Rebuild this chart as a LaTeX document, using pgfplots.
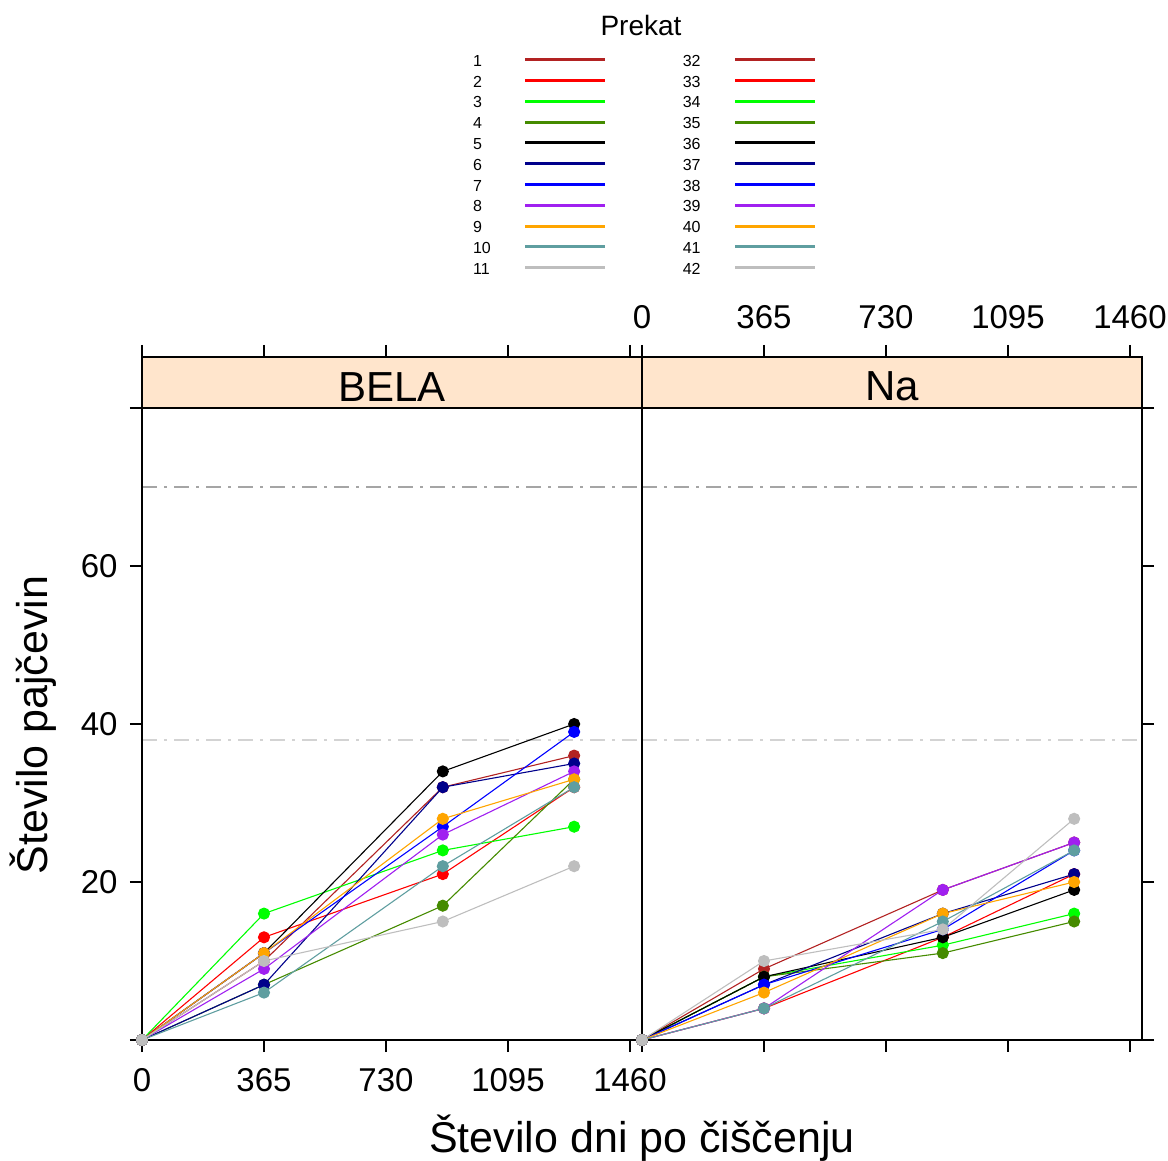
\documentclass[border=0pt]{standalone}
\usepackage{fontspec}
\setmainfont{Liberation Sans}
\usepackage{pgfplots}
\usepackage{pgfplotstable}
\pgfplotsset{compat=1.18}

\definecolor{c1}{RGB}{178,34,34}
\definecolor{c2}{RGB}{255,0,0}
\definecolor{c3}{RGB}{0,255,0}
\definecolor{c4}{RGB}{69,139,0}
\definecolor{c5}{RGB}{0,0,0}
\definecolor{c6}{RGB}{0,0,139}
\definecolor{c7}{RGB}{0,0,255}
\definecolor{c8}{RGB}{160,32,240}
\definecolor{c9}{RGB}{255,165,0}
\definecolor{c10}{RGB}{95,158,160}
\definecolor{c11}{RGB}{190,190,190}
\definecolor{stripbg}{RGB}{255,229,204}
\definecolor{refdark}{RGB}{165,165,165}
\definecolor{reflight}{RGB}{211,211,211}

\pgfplotstableread{
day s1 s2 s3 s4 s5 s6 s7 s8 s9 s10 s11
0 0 0 0 0 0 0 0 0 0 0 0
365 10 13 16 7 11 7 11 9 11 6 10
900 32 21 24 17 34 32 27 26 28 22 15
1293 36 32 27 33 40 35 39 34 33 32 22
}\bela
\pgfplotstableread{
day s1 s2 s3 s4 s5 s6 s7 s8 s9 s10 s11
0 0 0 0 0 0 0 0 0 0 0 0
365 9 4 8 8 8 7 7 4 6 4 10
900 19 13 12 11 13 16 14 19 16 15 14
1293 25 21 16 15 19 21 24 25 20 24 28
}\na

\pgfplotsset{
  panel/.style={
    scale only axis, width=500pt, height=683pt,
    xmin=0, xmax=1496, ymin=0, ymax=86.456,
    xtick={0,365,730,1095,1460},
    ytick={0,20,40,60,80},
    tick align=outside, major tick length=12pt,
    axis line style={line width=1.2pt},
    tick style={line width=1.2pt, black},
    ticklabel style={font=\fontsize{33}{33}\selectfont},
    xticklabel shift={13pt}, yticklabel shift={9pt},
    /pgf/number format/assume math mode=true,
    /pgf/number format/1000 sep={},
    clip=false, axis on top,
  },
  ser/.style={color=#1, line width=1.1pt, mark=*, mark size=5.5pt, mark options={solid, fill=#1, draw=#1}, forget plot},
  refline/.style={color=#1, line width=2pt, dash pattern=on 15pt off 7pt on 3pt off 7pt, forget plot},
}

\begin{document}
\begin{tikzpicture}
\useasboundingbox (0,0) rectangle (1168pt,1160pt);

\begin{axis}[panel, at={(142pt,120pt)}, anchor=south west,
  ytick pos=left, yticklabels={,20,40,60,},
  xticklabel pos=lower,
  legend columns=2, legend cell align=left, legend plot pos=right,
  legend image code/.code={\draw[#1, line width=3pt] (0pt,2pt) -- (80pt,2pt);},
  legend style={at={(0.6617,1.4436)}, anchor=north west, draw=none, fill=none,
    inner sep=0pt, font=\fontsize{16}{16}\selectfont, row sep=5.8pt,
    nodes={inner sep=0pt, text height=12pt, text depth=3pt},
    /tikz/every odd column/.append style={column sep=33pt},
    /tikz/every even column/.append style={column sep=76pt}},
]
\fill[stripbg] (axis cs:0,80) rectangle (axis cs:1496,86.456);
\draw[line width=1.2pt] (axis cs:0,80) -- (axis cs:1496,80);
\node[font=\fontsize{42}{42}\selectfont] at (axis cs:748,82.7) {BELA};
\addplot[refline=refdark] coordinates {(0,70) (1496,70)};
\addplot[refline=reflight] coordinates {(0,38) (1496,38)};
\addplot[ser=c1] table[x=day,y=s1] {\bela};
\addplot[ser=c2] table[x=day,y=s2] {\bela};
\addplot[ser=c3] table[x=day,y=s3] {\bela};
\addplot[ser=c4] table[x=day,y=s4] {\bela};
\addplot[ser=c5] table[x=day,y=s5] {\bela};
\addplot[ser=c6] table[x=day,y=s6] {\bela};
\addplot[ser=c7] table[x=day,y=s7] {\bela};
\addplot[ser=c8] table[x=day,y=s8] {\bela};
\addplot[ser=c9] table[x=day,y=s9] {\bela};
\addplot[ser=c10] table[x=day,y=s10] {\bela};
\addplot[ser=c11] table[x=day,y=s11] {\bela};
\addlegendimage{c1}\addlegendentry{1}
\addlegendimage{c1}\addlegendentry{32}
\addlegendimage{c2}\addlegendentry{2}
\addlegendimage{c2}\addlegendentry{33}
\addlegendimage{c3}\addlegendentry{3}
\addlegendimage{c3}\addlegendentry{34}
\addlegendimage{c4}\addlegendentry{4}
\addlegendimage{c4}\addlegendentry{35}
\addlegendimage{c5}\addlegendentry{5}
\addlegendimage{c5}\addlegendentry{36}
\addlegendimage{c6}\addlegendentry{6}
\addlegendimage{c6}\addlegendentry{37}
\addlegendimage{c7}\addlegendentry{7}
\addlegendimage{c7}\addlegendentry{38}
\addlegendimage{c8}\addlegendentry{8}
\addlegendimage{c8}\addlegendentry{39}
\addlegendimage{c9}\addlegendentry{9}
\addlegendimage{c9}\addlegendentry{40}
\addlegendimage{c10}\addlegendentry{10}
\addlegendimage{c10}\addlegendentry{41}
\addlegendimage{c11}\addlegendentry{11}
\addlegendimage{c11}\addlegendentry{42}
\end{axis}

\begin{axis}[panel, at={(642pt,120pt)}, anchor=south west,
  ytick pos=right, yticklabels={},
  xticklabel pos=upper,
]
\fill[stripbg] (axis cs:0,80) rectangle (axis cs:1496,86.456);
\draw[line width=1.2pt] (axis cs:0,80) -- (axis cs:1496,80);
\node[font=\fontsize{42}{42}\selectfont] at (axis cs:748,82.7) {Na};
\addplot[refline=refdark] coordinates {(0,70) (1496,70)};
\addplot[refline=reflight] coordinates {(0,38) (1496,38)};
\addplot[ser=c1] table[x=day,y=s1] {\na};
\addplot[ser=c2] table[x=day,y=s2] {\na};
\addplot[ser=c3] table[x=day,y=s3] {\na};
\addplot[ser=c4] table[x=day,y=s4] {\na};
\addplot[ser=c5] table[x=day,y=s5] {\na};
\addplot[ser=c6] table[x=day,y=s6] {\na};
\addplot[ser=c7] table[x=day,y=s7] {\na};
\addplot[ser=c8] table[x=day,y=s8] {\na};
\addplot[ser=c9] table[x=day,y=s9] {\na};
\addplot[ser=c10] table[x=day,y=s10] {\na};
\addplot[ser=c11] table[x=day,y=s11] {\na};
\end{axis}

\node[font=\fontsize{28}{28}\selectfont] at (641pt,1134pt) {Prekat};
\node[anchor=base, font=\fontsize{43}{43}\selectfont] at (642pt,8pt) {Število dni po čiščenju};
\node[anchor=base, rotate=90, font=\fontsize{43}{43}\selectfont] at (47pt,435pt) {Število pajčevin};
\end{tikzpicture}
\end{document}
